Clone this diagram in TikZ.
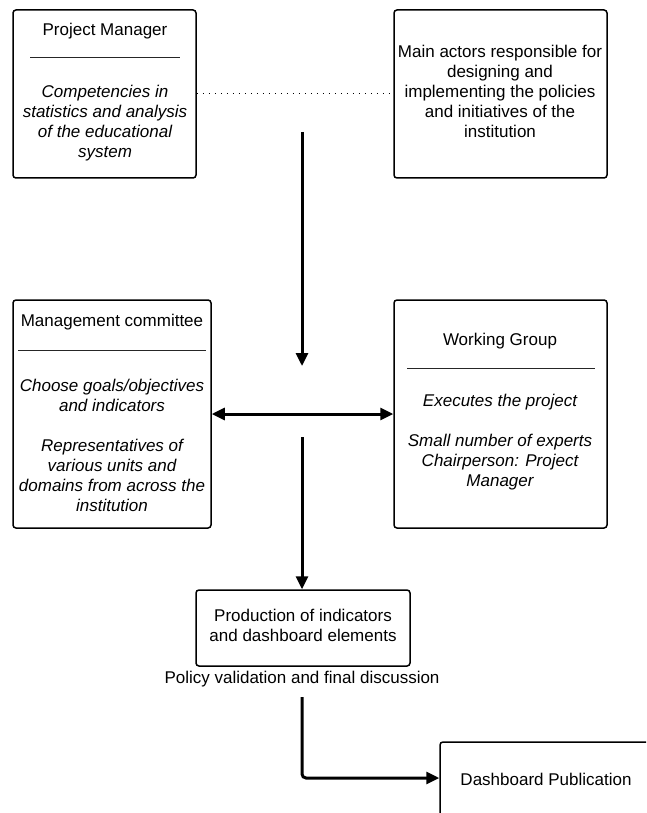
\documentclass[tikz,border=0pt]{standalone}
\usepackage{fontspec}
\setmainfont{Liberation Sans}
\usetikzlibrary{arrows.meta}
\begin{document}
\begin{tikzpicture}[x=1pt,y=-1pt,
  box/.style={draw=black,line width=1.5pt,rounded corners=3pt,inner sep=0pt,fill=white},
  txt/.style={inner sep=0pt,align=center,font=\fontsize{17}{20}\selectfont},
  itxt/.style={txt,font=\fontsize{17}{20}\selectfont\itshape},
  rule/.style={draw=black!85,line width=0.9pt},
  flow/.style={line width=3pt,-{Triangle[length=13pt,width=12pt]}},
  flowtwo/.style={line width=3pt,{Triangle[length=13pt,width=12pt]}-{Triangle[length=13pt,width=12pt]}}]
\useasboundingbox (0,0) rectangle (646,813);
\clip (0,0) rectangle (646,813);
% boxes
\node[box,minimum width=183pt,minimum height=168pt] (PM) at (104.5,94) {};
\node[box,minimum width=213pt,minimum height=168pt] (MA) at (500.5,94) {};
\node[box,minimum width=198pt,minimum height=228pt] (MC) at (112,414) {};
\node[box,minimum width=213pt,minimum height=228pt] (WG) at (500.5,414) {};
\node[box,minimum width=214pt,minimum height=76pt] (PR) at (303,628) {};
\node[box,minimum width=260pt,minimum height=140pt] (DB) at (570,812) {};
% texts
\node[txt] (PMt) at (105,31) {Project Manager};
\draw[rule] (30,57) coordinate (PMr1) -- (180,57) coordinate (PMr2);
\node[itxt] (PMd) at (105,123) {Competencies in\\statistics and analysis\\of the educational\\system};
\node[txt] (MAt) at (500,91) {Main actors responsible for\\designing and\\implementing the policies\\and initiatives of the\\institution};
\node[txt] (MCt) at (112,322) {Management committee};
\draw[rule] (18,350) coordinate (MCr1) -- (206,350) coordinate (MCr2);
\node[itxt] (MCd) at (112,445) {Choose goals/objectives\\and indicators\\[20pt]Representatives of\\various units and\\domains from across the\\institution};
\node[txt] (WGt) at (500,341) {Working Group};
\draw[rule] (407,368) coordinate (WGr1) -- (595,368) coordinate (WGr2);
\node[itxt] (WGd) at (500,442) {Executes the project\\[20pt]Small number of experts\\Chairperson: Project\\Manager};
\node[txt] (PRt) at (303,625) {Production of indicators\\and dashboard elements};
\node[txt] (PV) at (302,679) {Policy validation and final discussion};
\node[txt] (DBt) at (546,779) {Dashboard Publication};
% connectors
\draw[line width=0.9pt,dash pattern=on 1pt off 5pt] (PM.east |- 0,93) -- (MA.west |- 0,93);
\coordinate (v1) at (302,132);
\coordinate (v1e) at (302,366);
\draw[flow] (v1) -- (v1e);
\draw[flowtwo] (MC.east |- 0,414) -- (WG.west |- 0,414);
\coordinate (v2) at (302,437);
\draw[flow] (v2) -- (PR.north -| v2);
\coordinate (v3) at (302,697);
\draw[flow,rounded corners=4pt] (v3) |- (DB.west |- 0,778);
\end{tikzpicture}
\end{document}
